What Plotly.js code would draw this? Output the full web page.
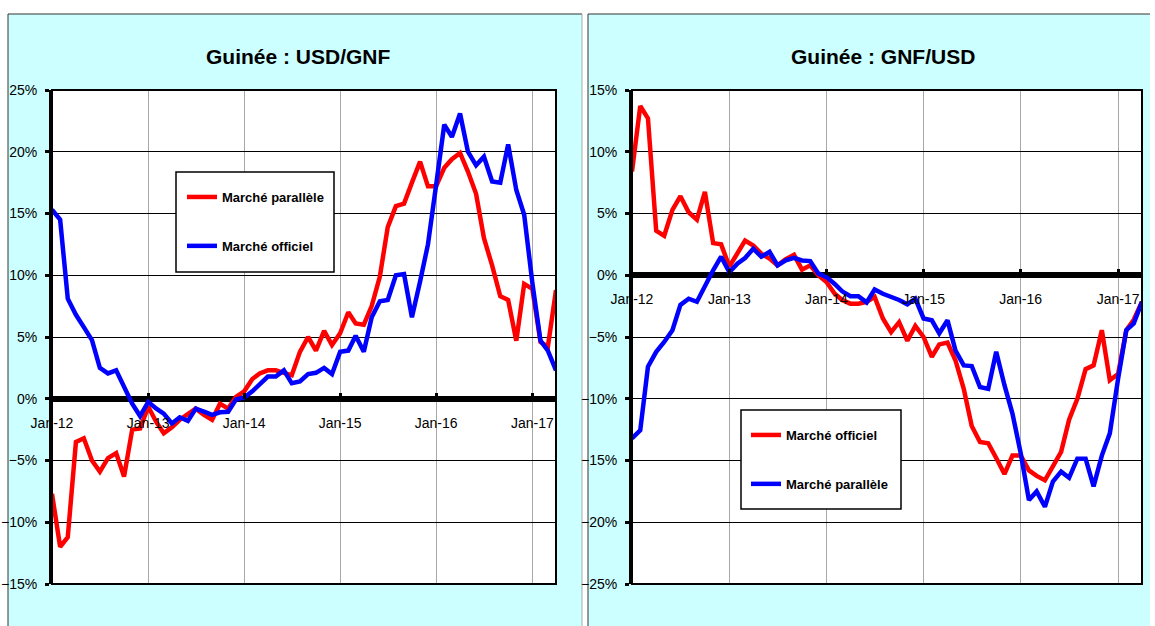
<!DOCTYPE html>
<html>
<head>
<meta charset="utf-8">
<script src="https://cdn.plot.ly/plotly-3.0.1.min.js"></script>
<style>html,body{margin:0;padding:0;background:#fff;}#chart{width:1155px;height:626px;}</style>
</head>
<body>
<div id="chart"></div>
<script>
// ---- Data (% change, monthly, Jan-12 .. Apr-17) ----
const startYear = 2012;
const nMonths = 64;
const months = [];
for (let i = 0; i < nMonths; i++) {
  const y = startYear + Math.floor(i / 12);
  const m = (i % 12) + 1;
  months.push(y + '-' + (m < 10 ? '0' + m : m) + '-01');
}
const tickYears = ['2012-01-01','2013-01-01','2014-01-01','2015-01-01','2016-01-01','2017-01-01'];
const tickLabels = ['Jan-12','Jan-13','Jan-14','Jan-15','Jan-16','Jan-17'];

// Left chart : Guinée : USD/GNF
const usdgnf_parallele = [-7.7,-12.0,-11.2,-3.5,-3.2,-5.0,-5.9,-4.8,-4.4,-6.3,
  -2.5,-2.4,-0.65,-1.9,-2.8,-2.3,-1.7,-1.2,-0.8,-1.3,
  -1.7,-0.4,-0.8,0.15,0.6,1.6,2.05,2.3,2.3,2.1,
  1.9,3.8,5.0,3.9,5.5,4.35,5.3,7.0,6.1,6.0,
  7.5,9.9,13.9,15.6,15.8,17.5,19.2,17.2,17.2,18.7,
  19.4,19.9,18.4,16.6,13.0,10.8,8.3,8.0,4.7,9.3,
  8.9,4.6,4.2,8.8];
const usdgnf_officiel = [15.3,14.5,8.1,6.8,5.8,4.75,2.5,2.05,2.3,1.0,
  -0.4,-1.4,-0.25,-0.8,-1.2,-2.0,-1.5,-1.8,-0.8,-1.05,
  -1.3,-1.1,-1.05,-0.05,0.1,0.6,1.2,1.8,1.8,2.3,
  1.25,1.4,2.0,2.1,2.5,2.0,3.8,3.9,5.1,3.8,
  6.6,7.9,8.0,10.0,10.1,6.6,9.5,12.5,17.3,22.2,
  21.2,23.1,20.0,18.9,19.6,17.6,17.5,20.6,16.9,14.9,
  9.4,4.7,3.9,2.3];

// Right chart : Guinée : GNF/USD
const gnfusd_officiel = [8.4,13.7,12.7,3.6,3.2,5.3,6.4,5.1,4.5,6.75,
  2.6,2.5,0.7,1.9,2.8,2.4,1.75,1.35,0.8,1.3,
  1.65,0.45,0.8,0,-0.55,-1.5,-2.0,-2.3,-2.3,-2.15,
  -1.75,-3.5,-4.6,-3.8,-5.3,-4.1,-5.0,-6.6,-5.6,-5.45,
  -6.9,-9.2,-12.2,-13.5,-13.6,-14.8,-16.1,-14.6,-14.6,-15.8,
  -16.25,-16.6,-15.5,-14.3,-11.7,-10.0,-7.6,-7.3,-4.45,-8.5,
  -8.0,-4.45,-3.6,-2.15];
const gnfusd_parallele = [-13.2,-12.55,-7.4,-6.2,-5.4,-4.45,-2.4,-1.9,-2.15,-0.8,
  0.4,1.5,0.25,0.95,1.4,2.15,1.5,1.9,0.8,1.2,
  1.4,1.2,1.15,0.15,-0.15,-0.7,-1.3,-1.7,-1.7,-2.2,
  -1.15,-1.5,-1.75,-2.0,-2.35,-1.9,-3.5,-3.65,-4.7,-3.65,
  -6.1,-7.3,-7.35,-9.05,-9.2,-6.2,-8.9,-11.2,-14.4,-18.2,
  -17.5,-18.75,-16.7,-15.9,-16.4,-14.85,-14.85,-17.1,-14.6,-12.8,
  -8.4,-4.45,-3.9,-2.15];

const leftTitle = 'Guinée : USD/GNF';
const rightTitle = 'Guinée : GNF/USD';

// ---- Layout helpers (pixel -> paper) ----
const W = 1155, H = 626;
const px = x => x / W;
const py = y => 1 - y / H;
const FONT = '"Liberation Sans Narrow", "Arial Narrow", "Liberation Sans", Arial, sans-serif';
const RED = '#ff0000', BLUE = '#0000ff';

const yDom = [py(584), py(90)];
const leftRange = [-15, 25], rightRange = [-25, 15];
const zeroPos = r => yDom[0] + (0 - r[0]) / (r[1] - r[0]) * (yDom[1] - yDom[0]);

function xAxis(domain, pos) {
  return {
    domain: domain, anchor: 'free', position: pos,
    type: 'date', range: ['2012-01-01', '2017-04-01'],
    tickvals: tickYears, ticktext: tickLabels,
    ticks: 'inside', ticklen: 6, tickwidth: 3, tickcolor: '#000',
    ticklabelstandoff: 14,
    showgrid: true, gridcolor: '#a8a8a8', gridwidth: 1,
    showline: false, zeroline: false,
    tickfont: {family: FONT, size: 14, color: '#000'},
    fixedrange: true
  };
}
function yAxis(xname, range) {
  return {
    domain: yDom, anchor: xname, range: range, dtick: 5, tick0: 0,
    ticksuffix: '%',
    ticks: 'outside', ticklen: 4, tickwidth: 3, tickcolor: '#000',
    showline: true, linewidth: 3, linecolor: '#000',
    showgrid: true, gridcolor: '#000', gridwidth: 1,
    zeroline: true, zerolinecolor: '#000', zerolinewidth: 6,
    tickfont: {family: FONT, size: 14, color: '#000'},
    ticklabelstandoff: 5,
    fixedrange: true
  };
}

const traces = [
  {x: months, y: usdgnf_parallele, name: 'Marché parallèle', type: 'scatter', mode: 'lines',
   line: {color: RED, width: 4.5}, xaxis: 'x', yaxis: 'y', legend: 'legend', legendgroup: 'a'},
  {x: months, y: usdgnf_officiel, name: 'Marché officiel', type: 'scatter', mode: 'lines',
   line: {color: BLUE, width: 4.5}, xaxis: 'x', yaxis: 'y', legend: 'legend', legendgroup: 'b'},
  {x: months, y: gnfusd_officiel, name: 'Marché officiel', type: 'scatter', mode: 'lines',
   line: {color: RED, width: 4.5}, xaxis: 'x2', yaxis: 'y2', legend: 'legend2', legendgroup: 'c'},
  {x: months, y: gnfusd_parallele, name: 'Marché parallèle', type: 'scatter', mode: 'lines',
   line: {color: BLUE, width: 4.5}, xaxis: 'x2', yaxis: 'y2', legend: 'legend2', legendgroup: 'd'}
];

const legendCommon = {
  bgcolor: 'rgba(0,0,0,0)', borderwidth: 0,
  font: {family: FONT, size: 13, color: '#000', weight: 'bold'},
  traceorder: 'grouped', tracegroupgap: 29,
  xanchor: 'left', yanchor: 'top', itemwidth: 30
};

const layout = {
  width: W, height: H,
  margin: {l: 0, r: 0, t: 0, b: 0},
  paper_bgcolor: '#ccffff',
  plot_bgcolor: '#ffffff',
  showlegend: true,
  xaxis: xAxis([px(52), px(556)], zeroPos(leftRange)),
  yaxis: yAxis('x', leftRange),
  xaxis2: xAxis([px(632), px(1142)], zeroPos(rightRange)),
  yaxis2: yAxis('x2', rightRange),
  legend: Object.assign({}, legendCommon, {x: px(182), y: py(182)}),
  legend2: Object.assign({}, legendCommon, {x: px(746), y: py(420)}),
  annotations: [
    {xref: 'paper', yref: 'paper', x: px(298), y: py(56), text: '<b>' + leftTitle + '</b>',
     showarrow: false, xanchor: 'center', yanchor: 'middle',
     font: {family: FONT, size: 21, color: '#000'}},
    {xref: 'paper', yref: 'paper', x: px(883), y: py(56), text: '<b>' + rightTitle + '</b>',
     showarrow: false, xanchor: 'center', yanchor: 'middle',
     font: {family: FONT, size: 21, color: '#000'}}
  ],
  shapes: [
    // white strips outside the two cyan panels
    {type: 'rect', xref: 'paper', yref: 'paper', x0: 0, x1: 1, y0: py(14), y1: 1,
     fillcolor: '#fff', line: {width: 0}, layer: 'below'},
    {type: 'rect', xref: 'paper', yref: 'paper', x0: 0, x1: px(8), y0: 0, y1: 1,
     fillcolor: '#fff', line: {width: 0}, layer: 'below'},
    {type: 'rect', xref: 'paper', yref: 'paper', x0: px(582), x1: px(588), y0: 0, y1: 1,
     fillcolor: '#fff', line: {width: 0}, layer: 'below'},
    {type: 'rect', xref: 'paper', yref: 'paper', x0: px(1150), x1: 1, y0: 0, y1: 1,
     fillcolor: '#fff', line: {width: 0}, layer: 'below'},
    // panel borders
    {type: 'line', xref: 'paper', yref: 'paper', x0: px(8), x1: px(582), y0: py(14), y1: py(14),
     line: {color: '#333', width: 1}, layer: 'below'},
    {type: 'line', xref: 'paper', yref: 'paper', x0: px(8), x1: px(8), y0: 0, y1: py(14),
     line: {color: '#333', width: 1}, layer: 'below'},
    {type: 'line', xref: 'paper', yref: 'paper', x0: px(582), x1: px(582), y0: 0, y1: py(14),
     line: {color: '#aaa', width: 1}, layer: 'below'},
    {type: 'line', xref: 'paper', yref: 'paper', x0: px(588), x1: px(1150), y0: py(14), y1: py(14),
     line: {color: '#333', width: 1}, layer: 'below'},
    {type: 'line', xref: 'paper', yref: 'paper', x0: px(588), x1: px(588), y0: 0, y1: py(14),
     line: {color: '#333', width: 1}, layer: 'below'},
    // plot-area frames
    {type: 'rect', xref: 'x domain', yref: 'y domain', x0: 0, x1: 1, y0: 0, y1: 1,
     line: {color: '#000', width: 2}, fillcolor: 'rgba(0,0,0,0)', layer: 'above'},
    {type: 'rect', xref: 'x2 domain', yref: 'y2 domain', x0: 0, x1: 1, y0: 0, y1: 1,
     line: {color: '#000', width: 2}, fillcolor: 'rgba(0,0,0,0)', layer: 'above'},
    // legend boxes
    {type: 'rect', xref: 'paper', yref: 'paper', x0: px(176), x1: px(334), y0: py(272), y1: py(172),
     line: {color: '#000', width: 1.5}, fillcolor: '#fff', layer: 'above'},
    {type: 'rect', xref: 'paper', yref: 'paper', x0: px(741), x1: px(901), y0: py(509), y1: py(410),
     line: {color: '#000', width: 1.5}, fillcolor: '#fff', layer: 'above'}
  ]
};

Plotly.newPlot('chart', traces, layout, {staticPlot: true, displayModeBar: false});
</script>
</body>
</html>
